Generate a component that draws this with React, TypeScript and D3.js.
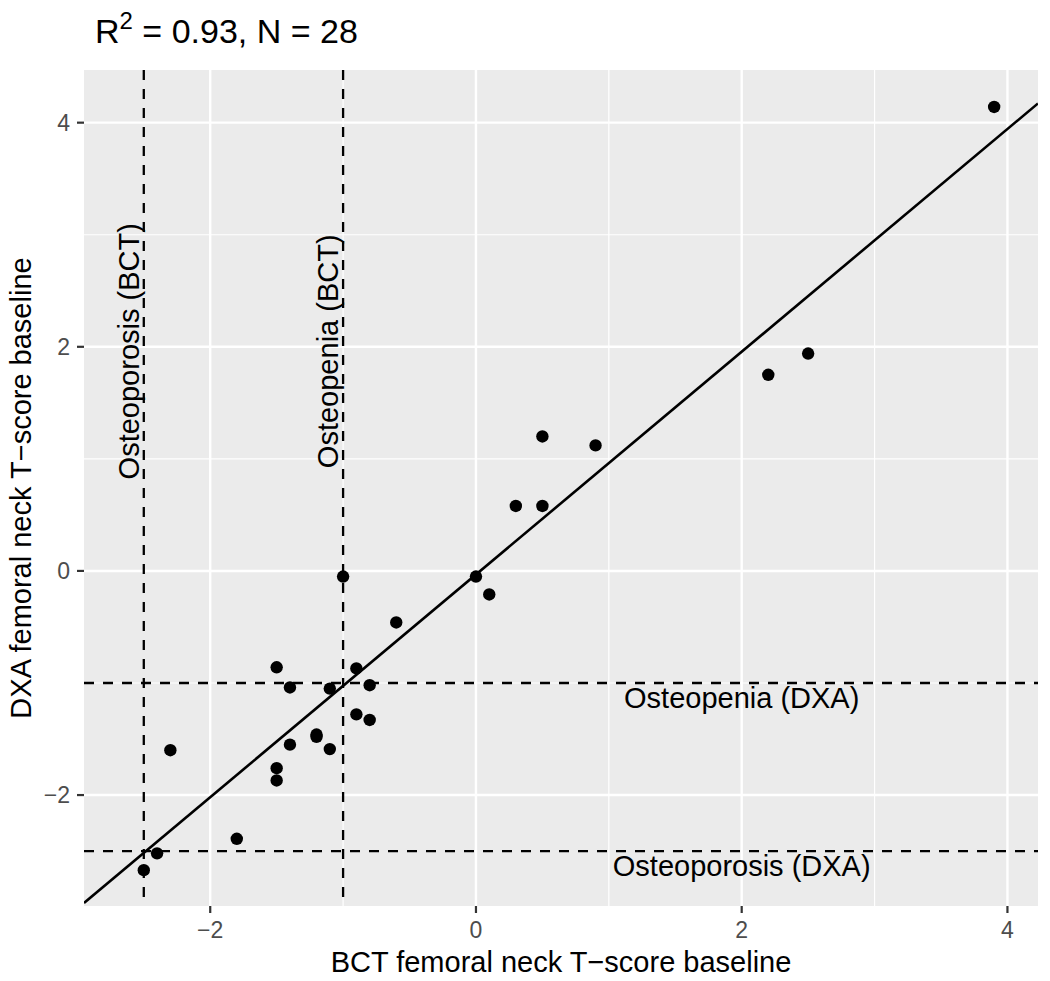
import React from "react";
import * as d3 from "d3";

// ---- data ----
const bctX = [3.9, 2.5, 2.2, 0.5, 0.9, 0.3, 0.5, 0.0, 0.1, -0.6, -1.0, -1.5, -1.4, -1.1, -0.9, -0.8, -0.9, -0.8, -1.2, -1.2, -1.4, -1.1, -1.5, -1.5, -2.3, -1.8, -2.4, -2.5];
const dxaY = [4.14, 1.94, 1.75, 1.2, 1.12, 0.58, 0.58, -0.05, -0.21, -0.46, -0.05, -0.86, -1.04, -1.05, -0.87, -1.02, -1.28, -1.33, -1.46, -1.48, -1.55, -1.59, -1.76, -1.87, -1.6, -2.39, -2.52, -2.67];
const xTicks = [-2, 0, 2, 4];
const yTicks = [-2, 0, 2, 4];
const xMinor = [-1, 1, 3];
const yMinor = [-1, 1, 3];
const vLines = [
  { x: -2.5, label: "Osteoporosis (BCT)", labelY: 1.96 },
  { x: -1.0, label: "Osteopenia (BCT)", labelY: 1.96 },
];
const hLines = [
  { y: -1.0, label: "Osteopenia (DXA)", labelX: 2 },
  { y: -2.5, label: "Osteoporosis (DXA)", labelX: 2 },
];
const titleMain = "R";
const titleSup = "2";
const titleRest = " = 0.93, N = 28";
const xTitle = "BCT femoral neck T\u2212score baseline";
const yTitle = "DXA femoral neck T\u2212score baseline";

const W = 1050;
const H = 981;
const P = { left: 84, right: 1038, top: 70, bottom: 906 };
const FONT = "'Liberation Sans', Arial, Helvetica, sans-serif";

export default function App() {
  const x = d3.scaleLinear().domain([-2.95, 4.23]).range([P.left, P.right]);
  const y = d3.scaleLinear().domain([-2.99, 4.47]).range([P.bottom, P.top]);

  // least squares fit
  const mx = d3.mean(bctX) as number;
  const my = d3.mean(dxaY) as number;
  let sxy = 0, sxx = 0;
  bctX.forEach((v, i) => {
    sxy += (v - mx) * (dxaY[i] - my);
    sxx += (v - mx) * (v - mx);
  });
  const slope = sxy / sxx;
  const intercept = my - slope * mx;
  const [x0, x1] = x.domain();
  const line = d3.line<number>().x((d) => x(d)).y((d) => y(intercept + slope * d));

  const fmt = (v: number) => (v < 0 ? "\u2212" + Math.abs(v) : String(v));

  return (
    <svg width={W} height={H} style={{ position: "absolute", left: 0, top: 0, background: "#fff" }} fontFamily={FONT}>
      <defs>
        <clipPath id="panel">
          <rect x={P.left} y={P.top} width={P.right - P.left} height={P.bottom - P.top} />
        </clipPath>
      </defs>
      <rect x={P.left} y={P.top} width={P.right - P.left} height={P.bottom - P.top} fill="#EBEBEB" />
      {xMinor.map((t) => (
        <line key={"xm" + t} x1={x(t)} x2={x(t)} y1={P.top} y2={P.bottom} stroke="#fff" strokeWidth={1.2} />
      ))}
      {yMinor.map((t) => (
        <line key={"ym" + t} y1={y(t)} y2={y(t)} x1={P.left} x2={P.right} stroke="#fff" strokeWidth={1.2} />
      ))}
      {xTicks.map((t) => (
        <line key={"xg" + t} x1={x(t)} x2={x(t)} y1={P.top} y2={P.bottom} stroke="#fff" strokeWidth={2.4} />
      ))}
      {yTicks.map((t) => (
        <line key={"yg" + t} y1={y(t)} y2={y(t)} x1={P.left} x2={P.right} stroke="#fff" strokeWidth={2.4} />
      ))}
      <g clipPath="url(#panel)">
        {vLines.map((v) => (
          <line key={"v" + v.x} x1={x(v.x)} x2={x(v.x)} y1={P.top} y2={P.bottom} stroke="#000" strokeWidth={2.3} strokeDasharray="10,9" />
        ))}
        {hLines.map((h) => (
          <line key={"h" + h.y} y1={y(h.y)} y2={y(h.y)} x1={P.left} x2={P.right} stroke="#000" strokeWidth={2.3} strokeDasharray="10,9" />
        ))}
        <path d={line([x0, x1]) as string} stroke="#000" strokeWidth={2.6} fill="none" />
        {bctX.map((v, i) => (
          <circle key={"p" + i} cx={x(v)} cy={y(dxaY[i])} r={6.2} fill="#000" />
        ))}
        {vLines.map((v) => (
          <text
            key={"vl" + v.x}
            transform={`translate(${x(v.x) - 5},${y(v.labelY)}) rotate(-90)`}
            textAnchor="middle"
            fontSize={29}
            fill="#000"
          >
            {v.label}
          </text>
        ))}
        {hLines.map((h) => (
          <text key={"hl" + h.y} x={x(h.labelX)} y={y(h.y) + 25} textAnchor="middle" fontSize={29} fill="#000">
            {h.label}
          </text>
        ))}
      </g>
      {/* x axis */}
      {xTicks.map((t) => (
        <g key={"xt" + t}>
          <line x1={x(t)} x2={x(t)} y1={P.bottom} y2={P.bottom + 7} stroke="#333" strokeWidth={2.2} />
          <text x={x(t)} y={938} textAnchor="middle" fontSize={23} fill="#4D4D4D">
            {fmt(t)}
          </text>
        </g>
      ))}
      {/* y axis */}
      {yTicks.map((t) => (
        <g key={"yt" + t}>
          <line x1={P.left - 7} x2={P.left} y1={y(t)} y2={y(t)} stroke="#333" strokeWidth={2.2} />
          <text x={70} y={y(t)} dy="0.36em" textAnchor="end" fontSize={23} fill="#4D4D4D">
            {fmt(t)}
          </text>
        </g>
      ))}
      <text x={(P.left + P.right) / 2} y={972} textAnchor="middle" fontSize={29} fill="#000">
        {xTitle}
      </text>
      <text transform={`translate(31,${(P.top + P.bottom) / 2}) rotate(-90)`} textAnchor="middle" fontSize={29} fill="#000">
        {yTitle}
      </text>
      <text x={95} y={43} fontSize={34} fill="#000">
        {titleMain}
        <tspan fontSize={24} dy={-14}>{titleSup}</tspan>
        <tspan dy={14}>{titleRest}</tspan>
      </text>
    </svg>
  );
}
